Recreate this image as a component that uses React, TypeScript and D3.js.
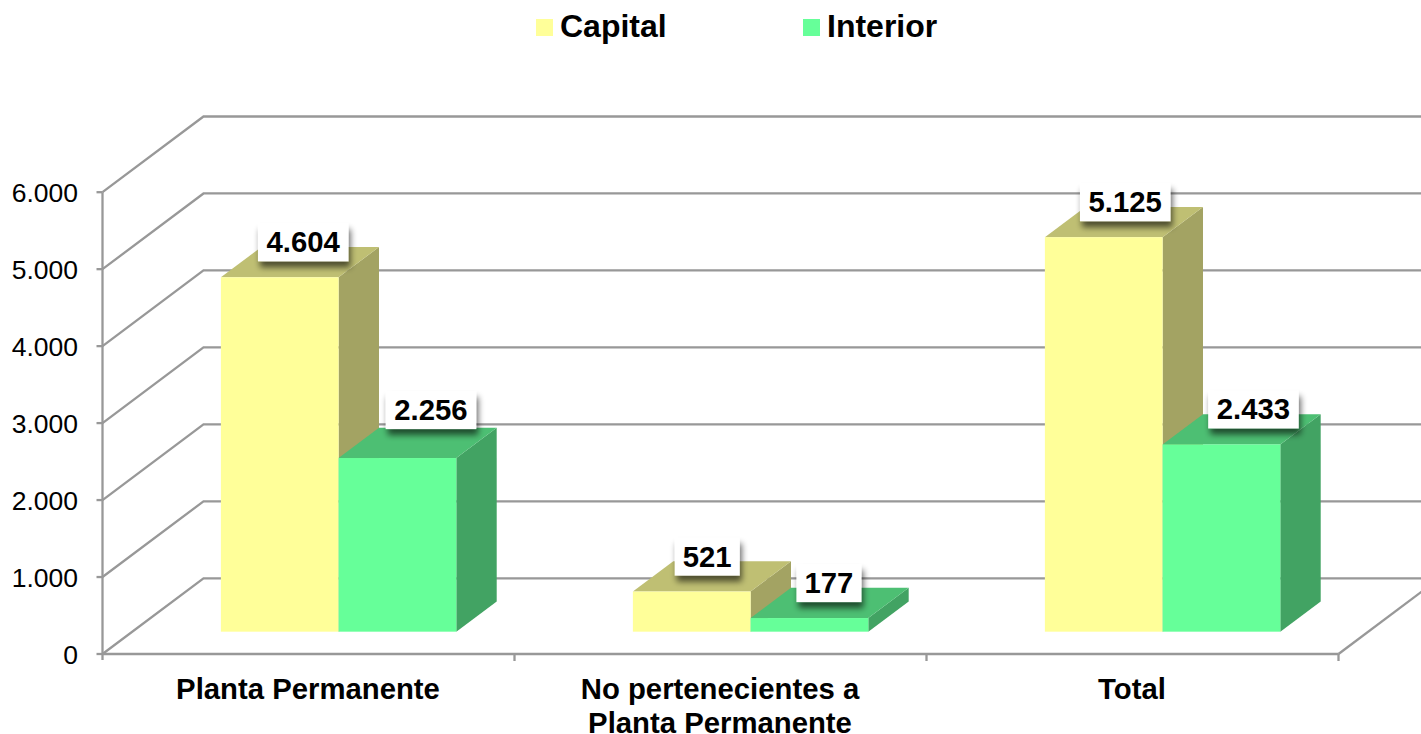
import React from "react";
import * as d3 from "d3";

const categories: string[][] = [["Planta Permanente"], ["No pertenecientes a", "Planta Permanente"], ["Total"]];
const seriesNames = ["Capital", "Interior"];
const capital = [4604, 521, 5125];
const interior = [2256, 177, 2433];
const yTicks = [0, 1000, 2000, 3000, 4000, 5000, 6000];
const yTickLabels = ["0", "1.000", "2.000", "3.000", "4.000", "5.000", "6.000"];
const valueLabels = [["4.604", "521", "5.125"], ["2.256", "177", "2.433"]];

const W = 1421, H = 734;
const FONT = "'Liberation Sans', Arial, sans-serif";
const GRID = "#989898";
const faces = [
  { front: "#FFFF99", top: "#BFBF73", side: "#A3A363" },
  { front: "#66FF99", top: "#4DBF73", side: "#42A363" },
];
// per-label placement relative to the top of each bar's front face (dx from bar centre, dy to box bottom)
const labelNudge = [
  [[23.5, -16], [15.5, -16], [21.5, -16]],
  [[33.5, -29], [19.5, -16], [32, -16]],
];

const DX = 101, DY = -75.7;           // wall depth
const floorF = 0.295, barF = 0.4;      // bar placement in depth, bar depth

const y = d3.scaleLinear().domain([0, 6000]).range([654, 192.2]);
const x = d3.scaleBand<number>().domain([0, 1, 2]).range([102.5, 1338.5]);
const barW = x.bandwidth() / 3.5;
const pts = (p: number[][]) => p.map((q) => q.join(",")).join(" ");

export default function App() {
  const series = [capital, interior];
  const line = d3.line();
  return (
    <svg width={W} height={H} viewBox={`0 0 ${W} ${H}`}
      style={{ position: "absolute", left: 0, top: 0, background: "#fff", display: "block" }} fontFamily={FONT}>
      <defs>
        <filter id="sh" x="-20%" y="-30%" width="140%" height="170%">
          <feGaussianBlur in="SourceAlpha" stdDeviation="3.2" />
          <feOffset dx="1.5" dy="6" />
          <feComponentTransfer><feFuncA type="linear" slope="0.6" /></feComponentTransfer>
          <feMerge><feMergeNode /><feMergeNode in="SourceGraphic" /></feMerge>
        </filter>
      </defs>

      {/* legend */}
      {seriesNames.map((n, i) => {
        const sx = [536, 803][i];
        return (
          <g key={n}>
            <rect x={sx} y={19} width={17} height={17} fill={faces[i].front} />
            <text x={sx + 24} y={37} fontSize={32} fontWeight="bold" fill="#000">{n}</text>
          </g>
        );
      })}

      {/* walls */}
      {yTicks.map((t) => {
        const fy = y(t);
        return (
          <g key={t}>
            <path d={line([[102.5, fy], [102.5 + DX, fy + DY], [1338.5 + DX, fy + DY]])!} fill="none" stroke={GRID} strokeWidth={2.3} />
            <line x1={96.5} x2={102.5} y1={fy} y2={fy} stroke={GRID} strokeWidth={2.3} />
          </g>
        );
      })}
      <line x1={102.5} x2={102.5} y1={y(6000)} y2={660} stroke={GRID} strokeWidth={2.3} />
      <line x1={102.5} x2={1338.5} y1={654} y2={654} stroke={GRID} strokeWidth={2.3} />
      <line x1={1338.5} x2={1338.5 + DX} y1={654} y2={654 + DY} stroke={GRID} strokeWidth={2.3} />
      {[0, 1, 2].map((i) => (
        <line key={i} x1={x(i)! + x.bandwidth()} x2={x(i)! + x.bandwidth()} y1={654} y2={661} stroke={GRID} strokeWidth={2.3} />
      ))}

      {/* axis labels */}
      {yTicks.map((t, i) => (
        <text key={t} x={78} y={y(t) + 9.5} textAnchor="end" fontSize={26.5} fill="#000">{yTickLabels[i]}</text>
      ))}
      {categories.map((lines, i) => (
        <text key={i} x={x(i)! + x.bandwidth() / 2} textAnchor="middle" fontSize={29.3} fontWeight="bold" fill="#000">
          {lines.map((l, j) => (
            <tspan key={j} x={x(i)! + x.bandwidth() / 2 - 0.5} y={699.3 + j * 34}>{l}</tspan>
          ))}
        </text>
      ))}

      {/* bars */}
      {[0, 1, 2].map((c) => (
        <g key={c}>
          {series.map((vals, s) => {
            const x0 = x(c)! + (x.bandwidth() - 2 * barW) / 2 + floorF * DX + 0.3 + s * barW;
            const x1 = x0 + barW;
            const base = y(0) + floorF * DY;
            const top = base - (y(0) - y(vals[c]));
            const bx = barF * DX, by = barF * DY;
            return (
              <g key={s}>
                <polygon points={pts([[x1, top], [x1 + bx, top + by], [x1 + bx, base + by], [x1, base]])} fill={faces[s].side} />
                <polygon points={pts([[x0, top], [x0 + bx, top + by], [x1 + bx, top + by], [x1, top]])} fill={faces[s].top} />
                <rect x={x0} y={top} width={barW} height={base - top} fill={faces[s].front} />
              </g>
            );
          })}
        </g>
      ))}

      {/* value labels */}
      {[0, 1, 2].map((c) =>
        series.map((vals, s) => {
          const x0 = x(c)! + (x.bandwidth() - 2 * barW) / 2 + floorF * DX + 0.3 + s * barW;
          const base = y(0) + floorF * DY;
          const top = base - (y(0) - y(vals[c]));
          const cx = x0 + barW / 2 + labelNudge[s][c][0];
          const bottom = top + labelNudge[s][c][1];
          const txt = valueLabels[s][c];
          const w = txt.length > 3 ? 90.5 : 65;
          return (
            <g key={`${c}-${s}`}>
              <rect x={cx - w / 2} y={bottom - 38} width={w} height={38} fill="#fff" filter="url(#sh)" />
              <text x={cx} y={bottom - 9} textAnchor="middle" fontSize={29.3} fontWeight="bold" fill="#000">{txt}</text>
            </g>
          );
        })
      )}
    </svg>
  );
}
